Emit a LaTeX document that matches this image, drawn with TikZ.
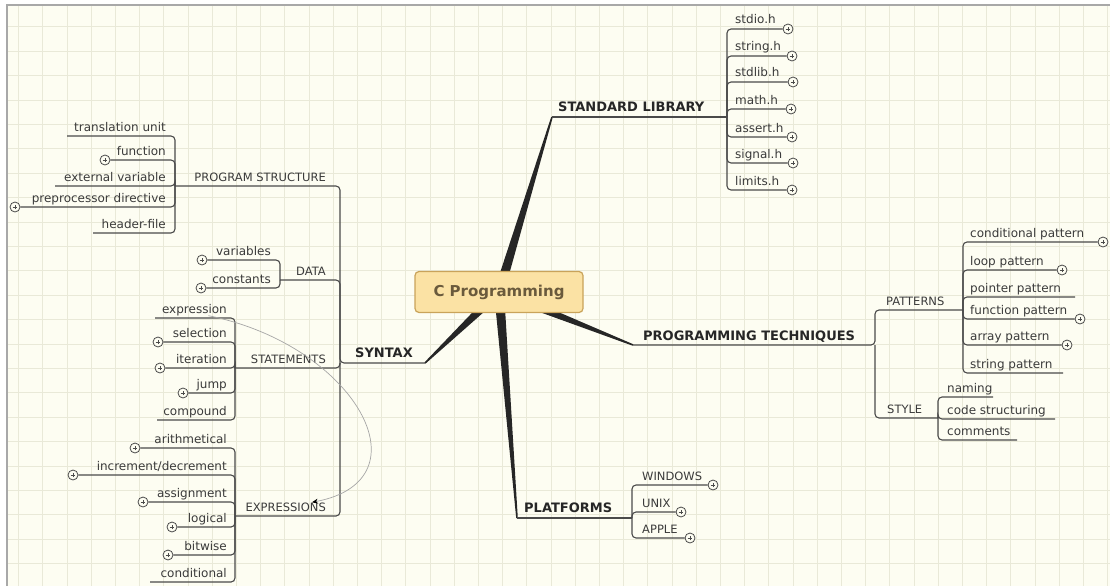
\documentclass[tikz,border=0pt]{standalone}
\usepackage{fontspec}
\setmainfont{DejaVu Sans}
\usetikzlibrary{calc,arrows.meta}
\definecolor{bgcream}{HTML}{FDFDF2}
\definecolor{gridline}{HTML}{E9E9D8}
\definecolor{framegray}{HTML}{A8A8A8}
\definecolor{linegray}{HTML}{4A4A4A}
\definecolor{textgray}{HTML}{3A3A3A}
\definecolor{topicblack}{HTML}{262626}
\definecolor{boxfill}{HTML}{FBE2A4}
\definecolor{boxdraw}{HTML}{C9A35A}
\definecolor{boxtext}{HTML}{6A5A3C}
\pgfdeclarelayer{grid}
\pgfdeclarelayer{links}
\pgfsetlayers{grid,links,main}
\tikzset{
  leaf/.style={font=\fontsize{12}{14}\selectfont, text=textgray, inner sep=0pt},
  subtopic/.style={font=\fontsize{11.5}{13}\selectfont, text=textgray, inner sep=0pt},
  topic/.style={font=\bfseries\fontsize{13}{15}\selectfont, text=topicblack, inner sep=0pt},
  central/.style={draw=boxdraw, fill=boxfill, line width=1.2pt, rounded corners=4pt,
    minimum width=168pt, minimum height=41pt, text=boxtext,
    font=\bfseries\fontsize{15}{17}\selectfont},
  branch/.style={draw=linegray, line width=1.1pt, rounded corners=4pt},
  relline/.style={draw=gray!70, line width=0.7pt, -{Stealth[length=6pt,width=5pt,black]}},
  plus/.style={circle, draw=linegray, fill=bgcream, line width=0.8pt, minimum size=10pt, inner sep=0pt,
    path picture={\draw[linegray, line width=0.7pt]
      ($(path picture bounding box.center)+(-2.3pt,0)$) -- ++(4.6pt,0)
      ($(path picture bounding box.center)+(0,-2.3pt)$) -- ++(0,4.6pt);}}
}
% tapered main branch from centre to a junction
\newcommand{\branchtaper}[2]{%
  \fill[topicblack] ($(#1)!5pt!90:(#2)$) -- ($(#2)!0.8pt!-90:(#1)$)
    -- ($(#2)!0.8pt!90:(#1)$) -- ($(#1)!5pt!-90:(#2)$) -- cycle;}

\begin{document}
\begin{tikzpicture}[x=1pt,y=-1pt]
\useasboundingbox (0,0) rectangle (1110,586);

% paper
\begin{pgfonlayer}{grid}
  \fill[white] (0,0) rectangle (1110,586);
  \fill[bgcream] (7,5) rectangle (1110,586);
  \foreach \gx in {0,...,45} {\draw[gridline, line width=0.8pt] (18.5+24.2*\gx,5) -- ++(0,581);}
  \foreach \gy in {0,...,22} {\draw[gridline, line width=0.8pt] (7,26.7+24.4*\gy) -- ++(1103,0);}
  \draw[framegray, line width=1.5pt] (7,586) -- (7,5) -- (1110,5);
\end{pgfonlayer}

\node[central] (cprog) at (499,292) {C Programming};

% junctions
\coordinate (slA) at (552,117);
\coordinate (slB) at (727,117);
\coordinate (ptA) at (633,345);
\coordinate (ptB) at (875,345);
\coordinate (paB) at (963,310);
\coordinate (stB) at (938,418);
\coordinate (plA) at (517,518);
\coordinate (plB) at (632,518);
\coordinate (syA) at (425,363);
\coordinate (syB) at (340,363);
\coordinate (psB) at (175,186);
\coordinate (daB) at (280,280);
\coordinate (smB) at (235,368);
\coordinate (exB) at (235,516);

\begin{pgfonlayer}{links}
  \branchtaper{cprog.center}{slA}
  \branchtaper{cprog.center}{ptA}
  \branchtaper{cprog.center}{plA}
  \branchtaper{cprog.center}{syA}
\end{pgfonlayer}

% standard library
\node[topic, anchor=base west] (stdlib) at (558,111) {STANDARD LIBRARY};
\draw[branch] (slA) -- (slB);
\foreach \t/\y/\p [count=\i] in {stdio.h/29/788, string.h/56/792, stdlib.h/82/793,
    math.h/109/791, assert.h/137/792, signal.h/163/793, limits.h/190/792}{
  \node[leaf, anchor=base west] (sl\i) at (735,\y-5) {\t};
  \node[plus] (slp\i) at (\p,\y) {};
  \draw[branch] (slB) |- (slp\i.west);
}

% programming techniques
\node[topic, anchor=base west] (progtech) at (643,340) {PROGRAMMING TECHNIQUES};
\draw[branch] (ptA) -- (ptB) |- (paB);
\draw[branch] (ptB) |- (stB);
\node[subtopic, anchor=base west] (patterns) at (886,305) {PATTERNS};
\node[subtopic, anchor=base west] (style) at (887,413) {STYLE};
\foreach \t/\y/\e/\p [count=\i] in {conditional pattern/242/1103/1, loop pattern/270/1062/1,
    pointer pattern/297/1075/0, function pattern/319/1080/1, array pattern/345/1067/1,
    string pattern/373/1063/0}{
  \node[leaf, anchor=base west] (pa\i) at (970,\y-5) {\t};
  \ifnum\p=1
    \node[plus] (pap\i) at (\e,\y) {};
    \draw[branch] (paB) |- (pap\i.west);
  \else
    \coordinate (pae\i) at (\e,\y);
    \draw[branch] (paB) |- (pae\i);
  \fi
}
\foreach \t/\y/\e [count=\i] in {naming/397/993, code structuring/419/1055, comments/440/1017}{
  \node[leaf, anchor=base west] (st\i) at (947,\y-5) {\t};
  \coordinate (ste\i) at (\e,\y);
  \draw[branch] (stB) |- (ste\i);
}

% platforms
\node[topic, anchor=base west] (platforms) at (524,512) {PLATFORMS};
\draw[branch] (plA) -- (plB);
\foreach \t/\y/\p [count=\i] in {WINDOWS/485/713, UNIX/512/681, APPLE/538/690}{
  \node[subtopic, anchor=base west] (pl\i) at (642,\y-5) {\t};
  \node[plus] (plp\i) at (\p,\y) {};
  \draw[branch] (plB) |- (plp\i.west);
}

% syntax
\node[topic, anchor=base west] (syntax) at (355,357) {SYNTAX};
\draw[branch] (syA) -- (syB) |- (psB);
\draw[branch] (syB) |- (daB);
\draw[branch] (syB) |- (smB);
\draw[branch] (syB) |- (exB);
\node[subtopic, anchor=base east] (progstruct) at (326,181) {PROGRAM STRUCTURE};
\node[subtopic, anchor=base east] (data) at (326,275) {DATA};
\node[subtopic, anchor=base east] (statements) at (326,363) {STATEMENTS};
\node[subtopic, anchor=base east] (expressions) at (326,511) {EXPRESSIONS};

\foreach \t/\y/\e/\p [count=\i] in {translation unit/136/67/0, function/160/105/1,
    external variable/186/55/0, preprocessor directive/207/15/1, header-file/233/93/0}{
  \node[leaf, anchor=base east] (ps\i) at (166,\y-5) {\t};
  \ifnum\p=1
    \node[plus] (psp\i) at (\e,\y) {};
    \draw[branch] (psB) |- (psp\i.east);
  \else
    \coordinate (pse\i) at (\e,\y);
    \draw[branch] (psB) |- (pse\i);
  \fi
}
\foreach \t/\y/\e [count=\i] in {variables/260/202, constants/288/201}{
  \node[leaf, anchor=base east] (da\i) at (271,\y-5) {\t};
  \node[plus] (dap\i) at (\e,\y) {};
  \draw[branch] (daB) |- (dap\i.east);
}
\foreach \t/\y/\e/\p [count=\i] in {expression/318/155/0, selection/342/158/1,
    iteration/368/160/1, jump/393/183/1, compound/420/157/0}{
  \node[leaf, anchor=base east] (sm\i) at (227,\y-5) {\t};
  \ifnum\p=1
    \node[plus] (smp\i) at (\e,\y) {};
    \draw[branch] (smB) |- (smp\i.east);
  \else
    \coordinate (sme\i) at (\e,\y);
    \draw[branch] (smB) |- (sme\i);
  \fi
}
\foreach \t/\y/\e/\p [count=\i] in {arithmetical/448/135/1, {increment/decrement}/475/73/1,
    assignment/502/143/1, logical/527/172/1, bitwise/555/168/1, conditional/582/150/0}{
  \node[leaf, anchor=base east] (ex\i) at (227,\y-5) {\t};
  \ifnum\p=1
    \node[plus] (exp\i) at (\e,\y) {};
    \draw[branch] (exB) |- (exp\i.east);
  \else
    \coordinate (exe\i) at (\e,\y);
    \draw[branch] (exB) |- (exe\i);
  \fi
}

% relation
\draw[relline] ([xshift=14pt]sm1.south) .. controls (355,345) and (430,480) .. ([xshift=-14pt]expressions.north east);

\end{tikzpicture}
\end{document}
